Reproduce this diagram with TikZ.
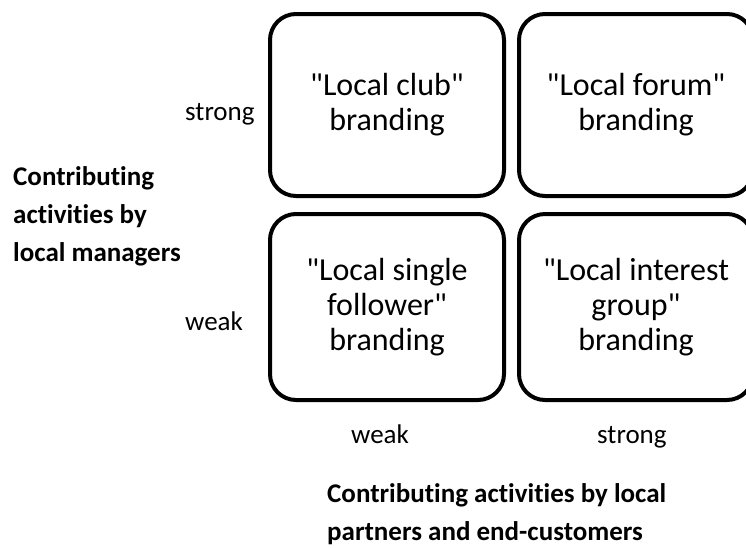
\documentclass[tikz,border=0pt]{standalone}
\usepackage{fontspec}
\setmainfont{Carlito}[Ligatures={TeXOff,NoCommon}]
\usetikzlibrary{positioning}
\tikzset{node distance=14pt and 11pt,
  quad/.style={draw, line width=4pt, rounded corners=26pt, minimum width=234pt, align=center, inner sep=0pt, font=\fontsize{32}{35}\selectfont},
  level/.style={inner sep=0pt, anchor=base west, font=\fontsize{27}{32}\selectfont},
  axis/.style={inner sep=0pt, anchor=base west, align=left, font=\fontsize{27}{38}\selectfont\bfseries}}

\begin{document}
\begin{tikzpicture}[x=1pt, y=-1pt]
    \useasboundingbox (0,0) rectangle (746,547);
    % the four kinds of branding
    \node[quad, minimum height=182pt] (club) at (387,105) {"Local club"\\branding};
    \node[quad, minimum height=182pt, right=of club] (forum) {"Local forum"\\branding};
    \node[quad, minimum height=186pt, below=of club] (single) {"Local single\\follower"\\branding};
    \node[quad, minimum height=186pt, below=of forum] (interest) {"Local interest\\group"\\branding};

    % levels
    \node[level] (mstrong) at (185,120) {strong};
    \node[level] (mweak) at (185,330) {weak};
    \node[level] (pweak) at (351,443) {weak};
    \node[level] (pstrong) at (597,443) {strong};

    % axis titles (base = last line)
    \node[axis] (managers) at (13,261) {Contributing\\activities by\\local managers};
    \node[axis] (partners) at (327,540) {Contributing activities by local\\partners and end-customers};
\end{tikzpicture}
\end{document}
